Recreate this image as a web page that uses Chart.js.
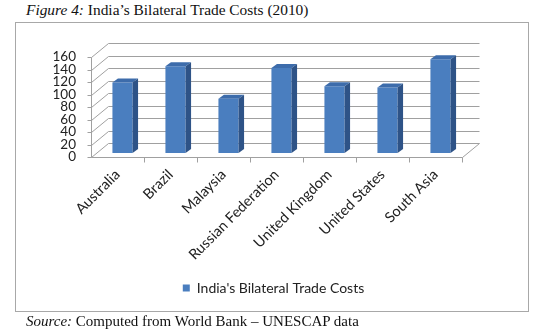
<!DOCTYPE html>
<html>
<head>
<meta charset="utf-8">
<script src="https://cdn.jsdelivr.net/npm/chart.js@4.4.1/dist/chart.umd.min.js"></script>
<style>
  html, body { margin: 0; padding: 0; background: #fff; }
  #page { position: relative; width: 540px; height: 336px; overflow: hidden; }
  .cap { position: absolute; left: 26px; font-family: "Liberation Serif", serif; font-size: 15px; color: #111; white-space: nowrap; }
  #title { top: 1px; font-size: 15.4px; }
  #source { top: 313px; }
  #frame { position: absolute; left: 15px; top: 22px; width: 512px; height: 288px; border: 1px solid #a8a8a8; }
  #chartCanvas { position: absolute; left: 0; top: 0; }
</style>
</head>
<body>
<div id="page">
  <div class="cap" id="title"><i>Figure 4:</i> India’s Bilateral Trade Costs (2010)</div>
  <div id="frame"></div>
  <canvas id="chartCanvas" width="540" height="336"></canvas>
  <div class="cap" id="source"><i>Source:</i> Computed from World Bank – UNESCAP data</div>
</div>
<script>
// values
const countries = ['Australia', 'Brazil', 'Malaysia', 'Russian Federation', 'United Kingdom', 'United States', 'South Asia'];
const tradeCosts = [113, 139, 87, 136, 107, 105, 150];
const yTicks = [0, 20, 40, 60, 80, 100, 120, 140, 160];

// offsets of the 3d planes, measured from the plane the bars sit in
const FRONT = { x: -5, y: 4 };
const BACK = { x: 12, y: -10 };
const SIDE = { x: 5.5, y: -4 };

const font = 'Lato, "Open Sans", sans-serif';

function line(ctx, x1, y1, x2, y2) {
    ctx.beginPath();
    ctx.moveTo(x1, y1);
    ctx.lineTo(x2, y2);
    ctx.stroke();
}

// walls, floor and bar sides (Excel style 3d column look)
const depth3d = {
    id: 'depth3d',
    afterLayout(chart) {
        // the legend sits a little left of the plot centre in the original
        chart.legend.left -= 8;
        chart.legend.right -= 8;
    },
    beforeDatasetsDraw(chart) {
        const { ctx, chartArea, scales: { x, y } } = chart;
        const L = chartArea.left, R = chartArea.right;
        const y0 = y.getPixelForValue(0);
        const yTop = y.getPixelForValue(yTicks[yTicks.length - 1]);
        ctx.save();
        ctx.strokeStyle = '#a0a0a0';
        ctx.lineWidth = 1;
        ctx.translate(0.5, 0.5);
        yTicks.forEach(v => {
            const py = Math.round(y.getPixelForValue(v));
            line(ctx, L + FRONT.x, py + FRONT.y, L + BACK.x, py + BACK.y);
            line(ctx, L + BACK.x, py + BACK.y, R + BACK.x, py + BACK.y);
            line(ctx, L + FRONT.x - 4, py + FRONT.y, L + FRONT.x, py + FRONT.y);
        });
        // front vertical axis
        line(ctx, L + FRONT.x, Math.round(yTop) + FRONT.y, L + FRONT.x, Math.round(y0) + FRONT.y);
        // floor edges
        line(ctx, L + FRONT.x, Math.round(y0) + FRONT.y, R + FRONT.x, Math.round(y0) + FRONT.y);
        line(ctx, R + FRONT.x, Math.round(y0) + FRONT.y, R + BACK.x, Math.round(y0) + BACK.y);
        // category tick marks on the front edge
        const step = (R - L) / countries.length;
        for (let i = 1; i <= countries.length; i++) {
            const px = Math.round(L + step * i + FRONT.x);
            line(ctx, px, Math.round(y0) + FRONT.y, px, Math.round(y0) + FRONT.y + 5);
        }
        ctx.restore();
    },
    afterDatasetsDraw(chart) {
        const { ctx } = chart;
        const meta = chart.getDatasetMeta(0);
        ctx.save();
        meta.data.forEach(bar => {
            const { x, y, base, width } = bar.getProps(['x', 'y', 'base', 'width'], true);
            const l = x - width / 2, r = x + width / 2;
            // top face
            ctx.fillStyle = '#3d6cab';
            ctx.beginPath();
            ctx.moveTo(l, y);
            ctx.lineTo(r, y);
            ctx.lineTo(r + SIDE.x, y + SIDE.y);
            ctx.lineTo(l + SIDE.x, y + SIDE.y);
            ctx.closePath();
            ctx.fill();
            // side face
            ctx.fillStyle = '#2e5387';
            ctx.beginPath();
            ctx.moveTo(r, y);
            ctx.lineTo(r + SIDE.x, y + SIDE.y);
            ctx.lineTo(r + SIDE.x, base + SIDE.y);
            ctx.lineTo(r, base);
            ctx.closePath();
            ctx.fill();
        });
        ctx.restore();
    }
};

const ctx = document.getElementById('chartCanvas').getContext('2d');

const chart = new Chart(ctx, {
    type: 'bar',
    data: {
        labels: countries,
        datasets: [{
            label: "India's Bilateral Trade Costs",
            data: tradeCosts,
            backgroundColor: '#4a7ebf',
            borderWidth: 0,
            barPercentage: 0.38,
            categoryPercentage: 1
        }]
    },
    options: {
        responsive: false,
        animation: false,
        events: [],
        layout: {
            padding: { left: 30, right: 73, top: 53, bottom: 31 }
        },
        scales: {
            x: {
                grid: { display: false },
                border: { display: false },
                ticks: {
                    autoSkip: false,
                    minRotation: 45,
                    maxRotation: 45,
                    padding: 5,
                    labelOffset: FRONT.x,
                    color: '#222',
                    font: { family: font, size: 14.5 }
                },
                afterFit(scale) { scale.height = 118; }
            },
            y: {
                min: 0,
                max: 160,
                grid: { display: false },
                border: { display: false },
                ticks: {
                    stepSize: 20,
                    autoSkip: false,
                    padding: 12,
                    labelOffset: FRONT.y,
                    color: '#222',
                    font: { family: font, size: 13.5 }
                },
                afterFit(scale) { scale.width = 66; }
            }
        },
        plugins: {
            legend: {
                position: 'bottom',
                fullSize: false,
                labels: {
                    boxWidth: 7,
                    boxHeight: 7,
                    padding: 10,
                    color: '#222',
                    font: { family: font, size: 14 }
                }
            },
            tooltip: { enabled: false }
        }
    },
    plugins: [depth3d]
});
</script>
</body>
</html>
